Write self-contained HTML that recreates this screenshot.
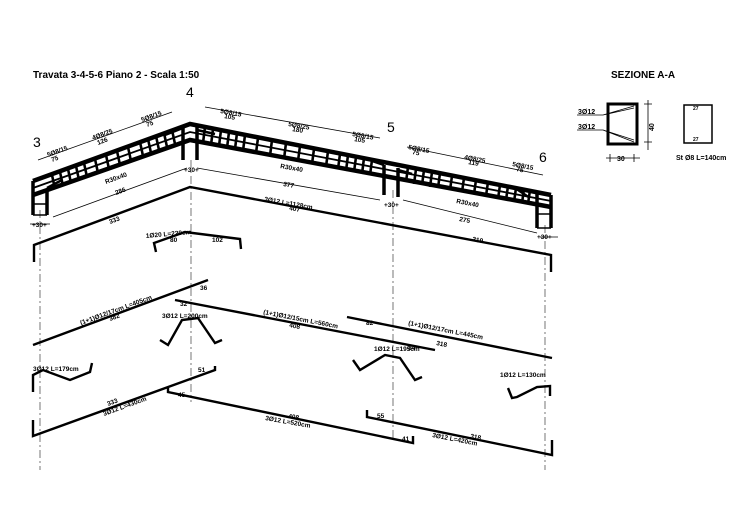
<!DOCTYPE html>
<html><head><meta charset="utf-8"><style>
html,body{margin:0;padding:0;background:#fff;}
svg{display:block;font-family:"Liberation Sans",sans-serif;}
</style></head><body>
<svg width="750" height="511" viewBox="0 0 750 511" xmlns="http://www.w3.org/2000/svg">
<rect width="750" height="511" fill="#fff"/>
<text x="33" y="78" font-size="10" font-weight="bold">Travata 3-4-5-6 Piano 2 - Scala 1:50</text>
<text x="611" y="78" font-size="10" font-weight="bold">SEZIONE A-A</text>
<text x="186" y="97" font-size="14">4</text>
<text x="33" y="147" font-size="14">3</text>
<text x="387" y="132" font-size="14">5</text>
<text x="539" y="162" font-size="14">6</text>

<g stroke="#555" stroke-width="0.8" stroke-dasharray="8,3,2,3" fill="none">
<line x1="40" y1="210" x2="40" y2="470"/>
<line x1="191" y1="160" x2="191" y2="402"/>
<line x1="393" y1="190" x2="393" y2="440"/>
<line x1="545" y1="225" x2="545" y2="470"/>
</g>

<g stroke="#000" fill="none">
<polyline points="33,181 190,124 551,195" stroke-width="4.5"/>
<polyline points="33,195 190,140 551,207" stroke-width="4.5"/>
<polyline points="33,188 190,132 551,201" stroke-width="1.8"/>
<path d="M33,181V215M47,190V215M183,127V160M197,127V160M384,165V195M398,168V197M537,193V228M551,195V228" stroke-width="3.5"/>
<path d="M33,215h14M537,228h14M33,204h14M537,214h14" stroke-width="1.5"/>
<path d="M47,188L62,180M165,135L183,128M197,130L215,134M372,161L384,165M398,170L412,174M515,188L530,198" stroke-width="2.5"/>
</g>
<g stroke="#000" stroke-width="2.6">
<line x1="52" y1="175" x2="55" y2="189"/><line x1="60" y1="172" x2="63" y2="186"/><line x1="68" y1="169" x2="71" y2="183"/><line x1="76" y1="166" x2="79" y2="180"/><line x1="84" y1="163" x2="87" y2="177"/>
<line x1="95" y1="159" x2="98" y2="173"/><line x1="106" y1="155" x2="109" y2="169"/><line x1="117" y1="151" x2="120" y2="165"/><line x1="128" y1="147" x2="131" y2="161"/>
<line x1="140" y1="142" x2="143" y2="156"/><line x1="148" y1="139" x2="151" y2="153"/><line x1="156" y1="136" x2="159" y2="150"/><line x1="164" y1="133" x2="167" y2="147"/><line x1="172" y1="130" x2="175" y2="144"/>
<line x1="205" y1="127" x2="203" y2="143"/><line x1="213" y1="129" x2="211" y2="145"/><line x1="221" y1="130" x2="219" y2="146"/><line x1="229" y1="132" x2="227" y2="148"/><line x1="237" y1="133" x2="235" y2="149"/><line x1="245" y1="135" x2="243" y2="151"/>
<line x1="258" y1="138" x2="256" y2="153"/><line x1="272" y1="140" x2="270" y2="156"/><line x1="286" y1="143" x2="284" y2="159"/><line x1="300" y1="146" x2="298" y2="161"/><line x1="314" y1="149" x2="312" y2="164"/><line x1="328" y1="151" x2="326" y2="167"/>
<line x1="340" y1="154" x2="338" y2="169"/><line x1="348" y1="155" x2="346" y2="171"/><line x1="356" y1="157" x2="354" y2="172"/><line x1="364" y1="158" x2="362" y2="174"/><line x1="372" y1="160" x2="370" y2="175"/>
<line x1="408" y1="167" x2="406" y2="182"/><line x1="416" y1="169" x2="414" y2="184"/><line x1="424" y1="170" x2="422" y2="185"/><line x1="432" y1="172" x2="430" y2="187"/><line x1="440" y1="173" x2="438" y2="188"/>
<line x1="452" y1="176" x2="450" y2="190"/><line x1="464" y1="178" x2="462" y2="192"/><line x1="476" y1="180" x2="474" y2="194"/><line x1="488" y1="182" x2="486" y2="196"/>
<line x1="500" y1="185" x2="498" y2="199"/><line x1="508" y1="186" x2="506" y2="200"/><line x1="516" y1="188" x2="514" y2="202"/><line x1="524" y1="189" x2="522" y2="203"/><line x1="530" y1="190" x2="528" y2="204"/>
</g>

<g stroke="#000" stroke-width="0.8" fill="none">
<line x1="38" y1="160" x2="172" y2="112"/>
<line x1="205" y1="107" x2="380" y2="138"/>
<line x1="407" y1="147" x2="543" y2="175"/>
<line x1="53" y1="217" x2="187" y2="168"/>
<line x1="197" y1="168" x2="380" y2="200"/>
<line x1="403" y1="200" x2="537" y2="233"/>
<line x1="30" y1="224" x2="50" y2="224"/>
<line x1="540" y1="237" x2="558" y2="237"/>
</g>
<g font-size="6.5" font-weight="bold">
<text transform="translate(48,157) rotate(-20)">5Ø8/15</text><text transform="translate(52,162) rotate(-20)">75</text>
<text transform="translate(93,140) rotate(-20)">4Ø8/25</text><text transform="translate(98,145) rotate(-20)">126</text>
<text transform="translate(142,122) rotate(-20)">5Ø8/15</text><text transform="translate(147,127) rotate(-20)">75</text>
<text transform="translate(220,113) rotate(10)">5Ø8/15</text><text transform="translate(224,118) rotate(10)">105</text>
<text transform="translate(288,126) rotate(10)">5Ø8/25</text><text transform="translate(292,131) rotate(10)">180</text>
<text transform="translate(352,136) rotate(10)">5Ø8/15</text><text transform="translate(354,141) rotate(10)">105</text>
<text transform="translate(408,149) rotate(11)">5Ø8/15</text><text transform="translate(412,154) rotate(11)">75</text>
<text transform="translate(464,159) rotate(11)">4Ø8/25</text><text transform="translate(468,164) rotate(11)">119</text>
<text transform="translate(512,166) rotate(11)">5Ø8/15</text><text transform="translate(516,171) rotate(11)">75</text>
<text transform="translate(106,184) rotate(-20)">R30x40</text><text transform="translate(116,195) rotate(-20)">286</text>
<text transform="translate(280,168) rotate(10)">R30x40</text><text transform="translate(283,186) rotate(10)">377</text>
<text transform="translate(456,203) rotate(11)">R30x40</text><text transform="translate(459,221) rotate(11)">275</text>
<text x="32" y="227">+30+</text><text x="184" y="172">+30+</text><text x="384" y="207">+30+</text><text x="537" y="239">+30+</text>
<text transform="translate(110,224) rotate(-20)">333</text>
<text transform="translate(264,201) rotate(10)">3Ø12 L=1128cm</text><text transform="translate(289,210) rotate(10)">407</text>
<text transform="translate(472,241) rotate(11)">319</text>
<text transform="translate(146,238) rotate(-5)">1Ø20 L=220cm</text>
<text x="170" y="242">80</text><text x="212" y="242">102</text>
<text transform="translate(81,325) rotate(-20)">(1+1)Ø12/17cm L=405cm</text><text transform="translate(110,321) rotate(-20)">382</text>
<text transform="translate(263,314) rotate(11)">(1+1)Ø12/15cm L=560cm</text><text transform="translate(289,327) rotate(11)">408</text>
<text transform="translate(408,325) rotate(11)">(1+1)Ø12/17cm L=445cm</text><text transform="translate(436,345) rotate(11)">318</text>
<text x="162" y="318">3Ø12 L=200cm</text>
<text x="33" y="371">3Ø12 L=179cm</text>
<text x="374" y="351">1Ø12 L=195cm</text>
<text x="500" y="377">1Ø12 L=130cm</text>
<text transform="translate(104,416) rotate(-20)">3Ø12 L=430cm</text><text transform="translate(108,406) rotate(-20)">333</text>
<text transform="translate(265,420) rotate(10)">3Ø12 L=520cm</text><text transform="translate(288,418) rotate(10)">408</text>
<text transform="translate(432,437) rotate(11)">3Ø12 L=420cm</text><text transform="translate(470,438) rotate(11)">318</text>
<text x="200" y="290">36</text><text x="180" y="306">32</text><text x="366" y="325">82</text><text x="408" y="350">84</text>
<text x="198" y="372">51</text><text x="178" y="397">45</text><text x="377" y="418">55</text><text x="402" y="441">41</text>
</g>

<g stroke="#000" stroke-width="2.4" fill="none">
<polyline points="34,262 34,245 190,187 551,255 551,272"/>
<polyline points="156,252 154,243 185,232 240,239 241,249"/>
<line x1="33" y1="345" x2="208" y2="280"/>
<line x1="175" y1="300" x2="435" y2="350"/>
<line x1="347" y1="317" x2="552" y2="358"/>
<polyline points="33,420 33,436 215,370 215,366"/>
<polyline points="168,388 168,392 413,443 413,436"/>
<polyline points="367,410 367,417 552,455 552,440"/>
<polyline points="33,392 33,375 43,370 70,380 90,372 92,363"/>
<polyline points="160,340 168,345 182,320 198,318 215,343 222,340"/>
<polyline points="353,360 360,370 385,355 400,358 415,380 422,377"/>
<polyline points="508,388 512,398 517,397 537,387 550,386 550,396"/>
</g>

<g stroke="#000" fill="none">
<rect x="608" y="104" width="29" height="40" stroke-width="3"/>
<rect x="684" y="105" width="28" height="38" stroke-width="1.5"/>
<path d="M577,115H603L634,106M603,115L634,108M577,130H603L634,142M603,130L634,140" stroke-width="0.8"/>
<path d="M648,100V150M644,104h8M644,142h8M606,158H640M610,154v8M634,154v8" stroke-width="0.8"/>
</g>
<g font-size="7" font-weight="bold">
<text x="578" y="114">3Ø12</text><text x="578" y="129">3Ø12</text>
<text x="646" y="127" transform="rotate(-90 652 125)">40</text>
<text x="617" y="161">30</text>
<text x="693" y="110" font-size="5">27</text><text x="693" y="141" font-size="5">27</text>
<text x="676" y="160">St Ø8 L=140cm</text>
</g>
</svg>
</body></html>
